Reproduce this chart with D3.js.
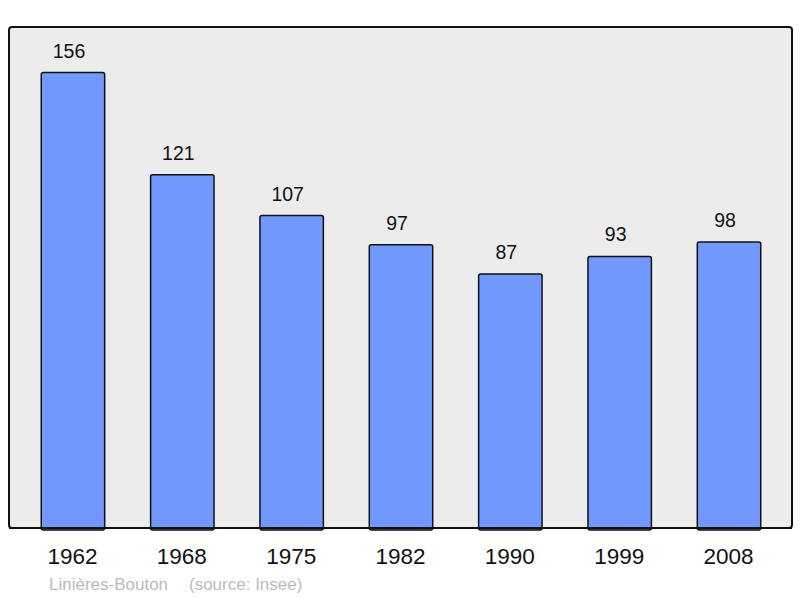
<!DOCTYPE html>
<html>
<head>
<meta charset="utf-8">
<script src="https://cdn.jsdelivr.net/npm/d3@7"></script>
<style>
  body { margin: 0; background: #fff; }
  text { font-family: "Liberation Sans", Arial, sans-serif; }
</style>
</head>
<body>
<div id="chart"></div>
<script>
// data
var years = ["1962", "1968", "1975", "1982", "1990", "1999", "2008"];
var population = [156, 121, 107, 97, 87, 93, 98];
var placeName = "Linières-Bouton";
var sourceText = "(source: Insee)";

var W = 800, H = 598;
var panel = {left: 9, top: 27, right: 792, bottom: 528};

var svg = d3.select("#chart").append("svg")
    .attr("width", W)
    .attr("height", H);

// grey panel
svg.append("rect")
    .attr("x", panel.left)
    .attr("y", panel.top)
    .attr("width", panel.right - panel.left)
    .attr("height", panel.bottom - panel.top)
    .attr("rx", 3)
    .style("fill", "#ececec")
    .style("stroke", "#111")
    .style("stroke-width", 2);

var x = d3.scaleBand()
    .domain(years)
    .range([18.3, 783.7])
    .paddingInner(0.42)
    .paddingOuter(0.21);

var y = d3.scaleLinear()
    .domain([0, d3.max(population) * 1.1])
    .range([panel.bottom, panel.top]);

var data = years.map(function(d, i) { return {year: d, value: population[i]}; });

// bars
svg.append("g")
  .selectAll("rect")
  .data(data)
  .enter()
  .append("rect")
    .attr("x", function(d) { return x(d.year); })
    .attr("y", function(d) { return y(d.value); })
    .attr("width", x.bandwidth())
    .attr("height", function(d) { return panel.bottom - y(d.value) + 2; })
    .attr("rx", 2)
    .style("fill", "#7098ff")
    .style("stroke", "#111")
    .style("stroke-width", 1.5);

// redraw panel bottom line over the bars
svg.append("line")
    .attr("x1", panel.left)
    .attr("x2", panel.right)
    .attr("y1", panel.bottom)
    .attr("y2", panel.bottom)
    .style("stroke", "#111")
    .style("stroke-width", 2);

// value labels (sit a little left of bar centre)
svg.append("g")
  .selectAll("text")
  .data(data)
  .enter()
  .append("text")
    .attr("x", function(d) { return x(d.year) + x.bandwidth() / 2 - 4; })
    .attr("y", function(d) { return y(d.value) - 15; })
    .attr("text-anchor", "middle")
    .style("font-size", "19.5px")
    .style("fill", "#111")
    .text(function(d) { return d.value; });

// year labels
svg.append("g")
  .selectAll("text")
  .data(data)
  .enter()
  .append("text")
    .attr("x", function(d) { return x(d.year) + x.bandwidth() / 2 - 0.5; })
    .attr("y", 564)
    .attr("text-anchor", "middle")
    .style("font-size", "22.5px")
    .style("fill", "#111")
    .text(function(d) { return d.year; });

// footer
svg.append("text")
    .attr("x", 49)
    .attr("y", 590)
    .style("font-size", "17px")
    .style("fill", "#bbb")
    .text(placeName);

svg.append("text")
    .attr("x", 189)
    .attr("y", 590)
    .style("font-size", "17px")
    .style("fill", "#bbb")
    .text(sourceText);
</script>
</body>
</html>
